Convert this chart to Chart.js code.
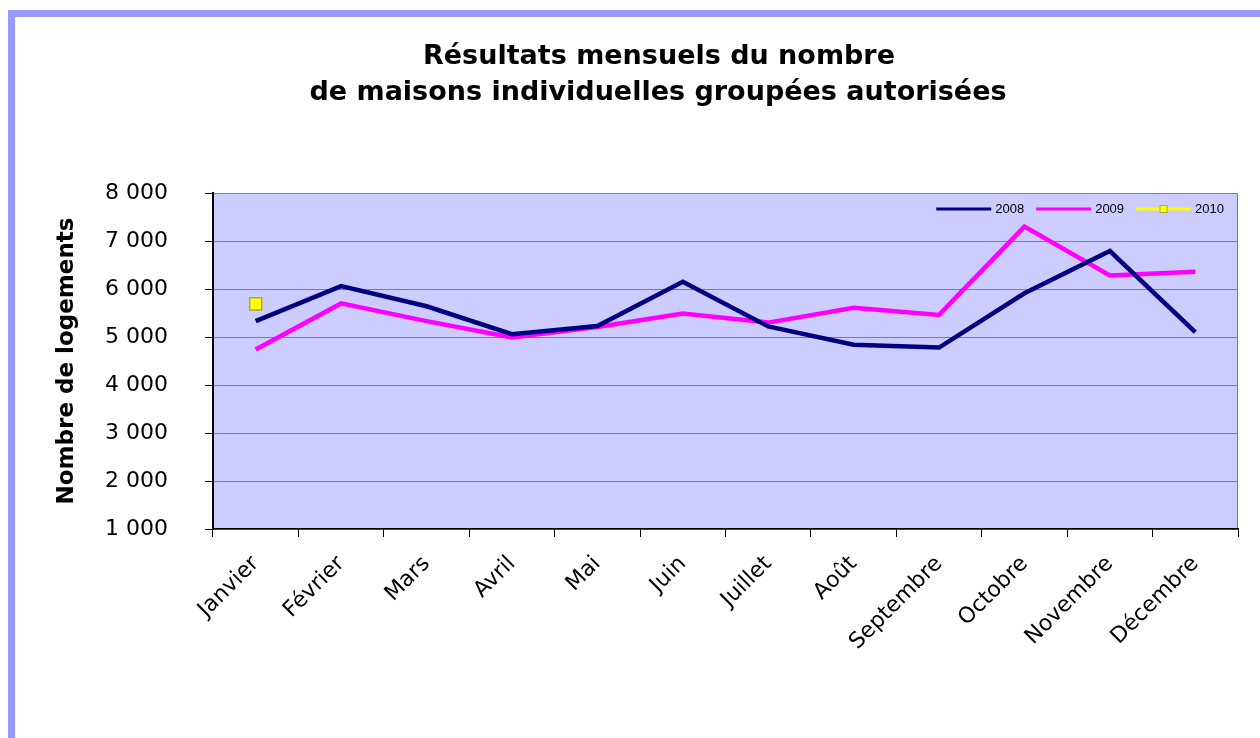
<!DOCTYPE html>
<html lang="fr">
<head>
<meta charset="utf-8">
<title>Maisons individuelles groupées autorisées</title>
<script src="https://cdn.jsdelivr.net/npm/chart.js@4.4.1/dist/chart.umd.min.js"></script>
<style>
  html, body { margin: 0; padding: 0; background: #fff; }
  #wrap { position: relative; width: 1260px; height: 738px; overflow: hidden; }
  #frame {
    position: absolute; left: 8px; top: 10px; right: -20px; bottom: -20px;
    border-left: 7px solid #9999ff; border-top: 7px solid #9999ff;
  }
  #logementsChart { position: absolute; left: 0; top: 0; }
</style>
</head>
<body>
<div id="wrap">
  <div id="frame"></div>
  <canvas id="logementsChart" width="1260" height="738"></canvas>
</div>
<script>
// Data
const months = ['Janvier', 'Février', 'Mars', 'Avril', 'Mai', 'Juin', 'Juillet', 'Août', 'Septembre', 'Octobre', 'Novembre', 'Décembre'];
const values2008 = [5330, 6060, 5640, 5060, 5230, 6150, 5220, 4840, 4780, 5910, 6790, 5100];
const values2009 = [4740, 5700, 5330, 4990, 5210, 5490, 5300, 5610, 5460, 7300, 6280, 6360];
const values2010 = [5690, null, null, null, null, null, null, null, null, null, null, null];
const yTicks = [1000, 2000, 3000, 4000, 5000, 6000, 7000, 8000];
const titleLines = ['Résultats mensuels du nombre', 'de maisons individuelles groupées autorisées'];

const mainFont = 'DejaVu Sans';

function formatNumber(v) {
    return String(v).replace(/\B(?=(\d{3})+(?!\d))/g, ' ');
}

// Lavender plot background + grey right edge
const plotBackground = {
    id: 'plotBackground',
    beforeDraw(chart) {
        const { ctx, chartArea: a } = chart;
        ctx.save();
        ctx.fillStyle = '#ccccff';
        ctx.fillRect(a.left, a.top, a.right - a.left, a.bottom - a.top);
        ctx.strokeStyle = '#808080';
        ctx.lineWidth = 1;
        ctx.beginPath();
        ctx.moveTo(a.right - 0.5, a.top);
        ctx.lineTo(a.right - 0.5, a.bottom);
        ctx.stroke();
        ctx.restore();
    }
};

// Two-line title, centred over the frame
const titleText = {
    id: 'titleText',
    afterDraw(chart) {
        const ctx = chart.ctx;
        ctx.save();
        ctx.fillStyle = '#000';
        ctx.font = 'bold 27px "' + mainFont + '"';
        ctx.textAlign = 'center';
        ctx.textBaseline = 'alphabetic';
        ctx.fillText(titleLines[0], 659, 64);
        ctx.fillText(titleLines[1], 658, 100);
        ctx.restore();
    }
};

// Small legend in the top right corner of the plot
const cornerLegend = {
    id: 'cornerLegend',
    afterDraw(chart) {
        const { ctx, chartArea: a } = chart;
        const sets = chart.data.datasets;
        const y = a.top + 16;
        let x = a.right - 14;
        ctx.save();
        ctx.font = '13px "Liberation Sans", Arial';
        ctx.textBaseline = 'middle';
        ctx.textAlign = 'left';
        for (let i = sets.length - 1; i >= 0; i--) {
            const ds = sets[i];
            const w = ctx.measureText(ds.label).width;
            ctx.fillStyle = '#000';
            ctx.fillText(ds.label, x - w, y);
            const lineEnd = x - w - 4;
            const lineStart = lineEnd - 55;
            ctx.strokeStyle = ds.borderColor;
            ctx.lineWidth = 3;
            ctx.beginPath();
            ctx.moveTo(lineStart, y);
            ctx.lineTo(lineEnd, y);
            ctx.stroke();
            if (ds.pointRadius > 0) {
                const mid = (lineStart + lineEnd) / 2;
                ctx.fillStyle = ds.pointBackgroundColor;
                ctx.strokeStyle = ds.pointBorderColor;
                ctx.lineWidth = 1;
                ctx.fillRect(mid - 3.5, y - 3.5, 7, 7);
                ctx.strokeRect(mid - 3.5, y - 3.5, 7, 7);
            }
            x = lineStart - 12;
        }
        ctx.restore();
    }
};

document.addEventListener('DOMContentLoaded', function() {
    const ctx = document.getElementById('logementsChart').getContext('2d');
    const logementsChart = new Chart(ctx, {
        type: 'line',
        data: {
            labels: months,
            datasets: [{
                label: '2008',
                data: values2008,
                borderColor: '#000080',
                backgroundColor: '#000080',
                borderWidth: 4.5,
                pointRadius: 0,
                tension: 0
            }, {
                label: '2009',
                data: values2009,
                borderColor: '#ff00ff',
                backgroundColor: '#ff00ff',
                borderWidth: 4.5,
                pointRadius: 0,
                tension: 0
            }, {
                label: '2010',
                data: values2010,
                borderColor: '#ffff00',
                backgroundColor: '#ffff00',
                borderWidth: 4,
                pointStyle: 'rect',
                pointRadius: 8.5,
                pointBackgroundColor: '#ffff00',
                pointBorderColor: '#a8a840',
                pointBorderWidth: 1.5,
                tension: 0
            }]
        },
        options: {
            responsive: false,
            animation: false,
            layout: { padding: { top: 193, right: 22, bottom: 0, left: 0 } },
            plugins: {
                legend: { display: false },
                title: { display: false },
                tooltip: { enabled: false }
            },
            scales: {
                x: {
                    offset: true,
                    grid: {
                        offset: true,
                        drawOnChartArea: false,
                        drawTicks: true,
                        tickLength: 8,
                        tickColor: '#000',
                        tickWidth: 1
                    },
                    border: { display: true, color: '#000', width: 1.5 },
                    ticks: {
                        autoSkip: false,
                        minRotation: 45,
                        maxRotation: 45,
                        padding: 14,
                        color: '#000',
                        font: { family: mainFont, size: 22 }
                    },
                    afterFit(scale) { scale.height = 209; }
                },
                y: {
                    min: 1000,
                    max: 8000,
                    afterBuildTicks(scale) {
                        scale.ticks = yTicks.map(v => ({ value: v }));
                    },
                    ticks: {
                        padding: 37,
                        color: '#000',
                        font: { family: mainFont, size: 22 },
                        callback: v => formatNumber(v)
                    },
                    grid: {
                        color: '#808080',
                        lineWidth: 1,
                        tickColor: '#000',
                        tickLength: 8
                    },
                    border: { color: '#000', width: 2 },
                    title: {
                        display: true,
                        text: 'Nombre de logements',
                        color: '#000',
                        font: { family: mainFont, size: 23, weight: 'bold' },
                        padding: { top: 53, bottom: 0 }
                    },
                    afterFit(scale) { scale.width = 213; }
                }
            }
        },
        plugins: [plotBackground, titleText, cornerLegend]
    });
});
</script>
</body>
</html>
